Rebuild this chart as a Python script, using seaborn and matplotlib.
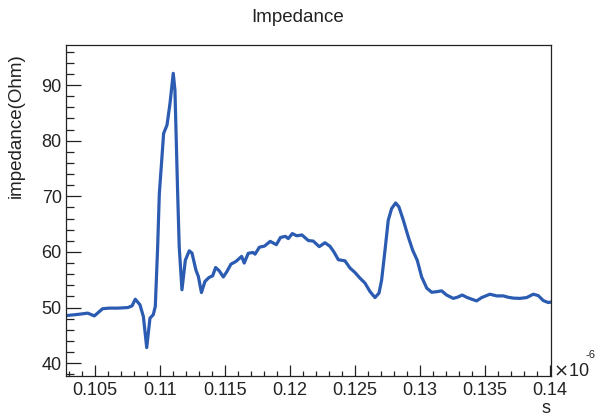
import matplotlib
matplotlib.use("Agg")
import matplotlib.pyplot as plt
import matplotlib.ticker as mticker
import seaborn as sns
import pandas as pd

# time in units of 1e-6 s
time_us = [
    0.10277, 0.10379, 0.10444, 0.10495, 0.10559, 0.10610, 0.10677, 0.10752,
    0.10785, 0.10810, 0.10846, 0.10872, 0.10898, 0.10923, 0.10948, 0.10964,
    0.10982, 0.10995, 0.11008, 0.11028, 0.11054, 0.11077, 0.11102, 0.11115,
    0.11136, 0.11148, 0.11169, 0.11195, 0.11225, 0.11246, 0.11277, 0.11295,
    0.11319, 0.11346, 0.11377, 0.11405, 0.11428, 0.11456, 0.11487, 0.11513,
    0.11546, 0.11585, 0.11628, 0.11648, 0.11679, 0.11715, 0.11731, 0.11765,
    0.11804, 0.11848, 0.11895, 0.11927, 0.11965, 0.11987, 0.12018, 0.12052,
    0.12092, 0.12141, 0.12179, 0.12225, 0.12269, 0.12308, 0.12338, 0.12372,
    0.12423, 0.12462, 0.12500, 0.12538, 0.12577, 0.12615, 0.12654, 0.12685,
    0.12705, 0.12731, 0.12756, 0.12782, 0.12813, 0.12838, 0.12872, 0.12910,
    0.12944, 0.12979, 0.13013, 0.13052, 0.13090, 0.13128, 0.13167, 0.13205,
    0.13256, 0.13287, 0.13325, 0.13359, 0.13398, 0.13436, 0.13475, 0.13538,
    0.13590, 0.13641, 0.13679, 0.13718, 0.13769, 0.13821, 0.13872, 0.13910,
    0.13949, 0.13987, 0.14008,
]
impedance = [
    48.55, 48.8, 49.0, 48.5, 49.8, 49.9, 49.9, 50.0,
    50.3, 51.5, 50.5, 48.4, 42.8, 48.1, 48.7, 50.2,
    60.9, 70.5, 74.7, 81.3, 82.8, 86.7, 92.1, 89.1,
    70.5, 60.9, 53.2, 58.5, 60.2, 59.8, 56.7, 55.6,
    52.7, 54.7, 55.4, 55.7, 57.2, 56.6, 55.5, 56.4,
    57.8, 58.3, 59.2, 58.0, 59.75, 59.9, 59.6, 60.85,
    61.05, 61.9, 61.3, 62.6, 62.8, 62.4, 63.3, 62.9,
    63.05, 62.05, 61.95, 60.95, 61.65, 61.0, 60.0, 58.6,
    58.4, 57.1, 56.3, 55.3, 54.4, 52.9, 51.8, 52.6,
    54.95, 60.3, 65.7, 67.8, 68.8, 68.1, 65.7, 62.7,
    60.3, 58.5, 55.5, 53.5, 52.75, 52.85, 53.0, 52.25,
    51.65, 51.85, 52.25, 51.85, 51.5, 51.2, 51.8, 52.4,
    52.1, 52.1, 51.85, 51.7, 51.65, 51.8, 52.4, 52.15,
    51.25, 50.9, 51.0,
]

title = "Impedance"
ylabel = "impedance(Ohm)"
xlabel = "s"

sns.set_theme(style="white")
plt.rcParams["font.family"] = ["Liberation Sans", "DejaVu Sans"]

df = pd.DataFrame({"t": time_us, "z": impedance})

fig = plt.figure(figsize=(5.95, 4.15), dpi=100)
ax = fig.add_axes([66 / 595, 1 - 376 / 415, (551 - 66) / 595, (376 - 45.5) / 415])
sns.lineplot(data=df, x="t", y="z", ax=ax, sort=False, color="#2B5CB2",
             linewidth=2.3, estimator=None)

ax.set_xlim(0.10277, 0.14008)
ax.set_ylim(37.7, 97.1)
ax.xaxis.set_major_locator(mticker.MultipleLocator(0.005))
ax.xaxis.set_minor_locator(mticker.MultipleLocator(0.001))
ax.yaxis.set_major_locator(mticker.MultipleLocator(10))
ax.yaxis.set_minor_locator(mticker.MultipleLocator(2))
ax.xaxis.set_major_formatter(mticker.FuncFormatter(lambda v, p: f"{v:.3f}".rstrip("0")))
ax.tick_params(axis="x", which="major", direction="in", length=7.6, width=0.9,
               color="#222222", labelsize=13, pad=4, labelcolor="#222222")
ax.tick_params(axis="x", which="minor", direction="in", length=3.6, width=0.9, color="#222222")
ax.tick_params(axis="y", which="major", direction="in", length=10.8, width=0.9,
               color="#222222", labelsize=13, pad=3, labelcolor="#222222")
ax.tick_params(axis="y", which="minor", direction="in", length=5.4, width=0.9, color="#222222")
ax.tick_params(bottom=True, left=True, which="both")
for s in ax.spines.values():
    s.set_color("#222222")
    s.set_linewidth(0.9)

ax.set_xlabel("")
ax.set_ylabel(ylabel, fontsize=13.5, color="#222222")
ax.yaxis.set_label_coords((25 - 66) / 485, (376 - 53) / 330.5)
ax.yaxis.label.set_horizontalalignment("right")

fig.text(0.5, 1 - 18 / 415, title, ha="center", va="center", fontsize=13.5, color="#222222")
fig.text(553 / 595, 1 - 371 / 415, r"$\times$10", ha="left", va="center", fontsize=13, color="#222222")
fig.text(586 / 595, 1 - 355 / 415, "-6", ha="left", va="center", fontsize=8, color="#222222")
fig.text(551 / 595, 1 - 408 / 415, xlabel, ha="right", va="center", fontsize=13, color="#222222")

fig.savefig("out.png", dpi=100)
